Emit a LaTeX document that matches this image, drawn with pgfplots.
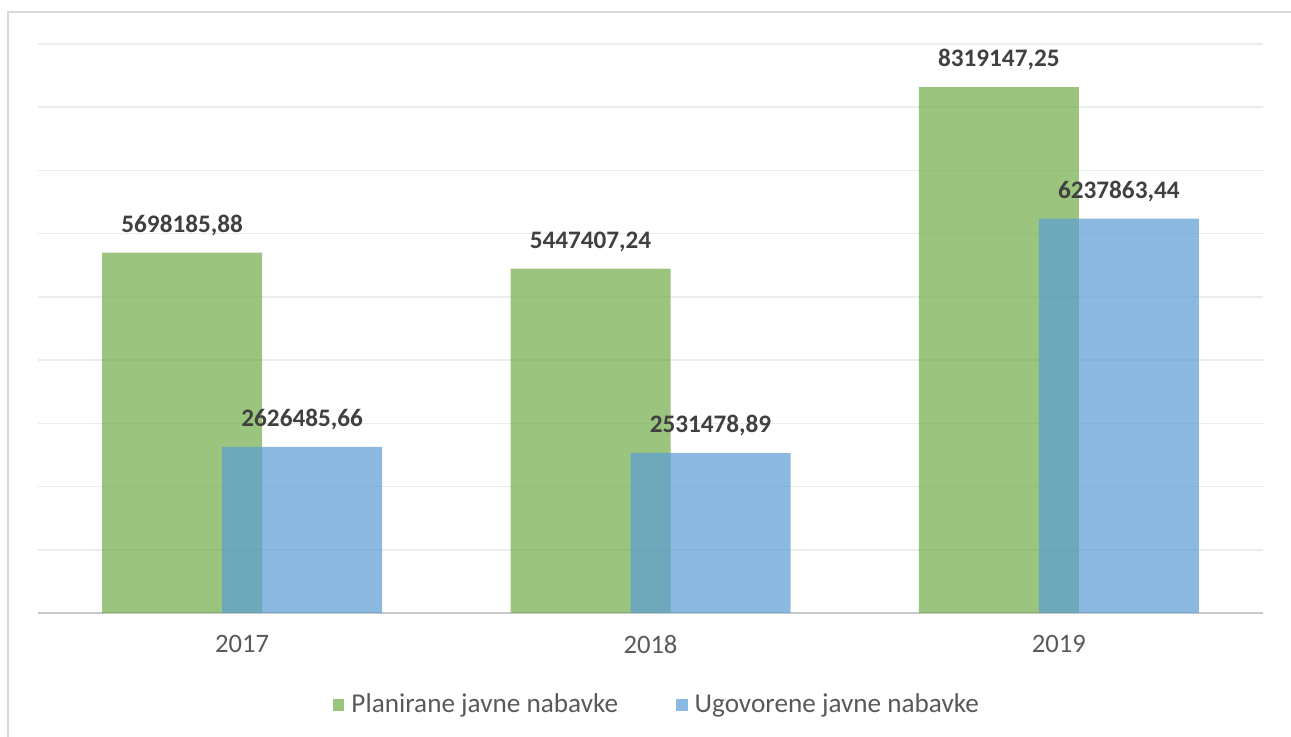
\documentclass[border=0pt]{standalone}
\usepackage{pgfplots}
\pgfplotsset{compat=1.18}
\usepackage{fontspec}
\setmainfont{Carlito}
\definecolor{gbar}{HTML}{70AD47}
\definecolor{bbar}{HTML}{5B9BD5}
\definecolor{lbl}{HTML}{404040}
\definecolor{tickc}{HTML}{595959}
\definecolor{gridc}{HTML}{ECECEC}
\definecolor{basec}{HTML}{C8C8C8}
\definecolor{framec}{HTML}{D9D9D9}
\pgfplotstableread{
x y label
0 5698185.88 5698185,88
1 5447407.24 5447407,24
2 8319147.25 8319147,25
}\planirane
\pgfplotstableread{
x y label
0 2626485.66 2626485,66
1 2531478.89 2531478,89
2 6237863.44 6237863,44
}\ugovorene
\begin{document}
\begin{tikzpicture}[x=1pt,y=1pt]
\useasboundingbox (-19,-62) rectangle (626.5,306.5);
\draw[color=framec, line width=1.2pt] (-15,-80) -- (-15,300.5) -- (660,300.5);
\begin{axis}[
  at={(0pt,0pt)}, anchor=south west,
  scale only axis, width=612.5pt, height=284.5pt,
  xmin=-0.5, xmax=2.5, ymin=0, ymax=9000000,
  axis line style={draw=none},
  xtick={0,1,2}, xticklabels={2017,2018,2019},
  ytick={1000000,2000000,3000000,4000000,5000000,6000000,7000000,8000000,9000000},
  yticklabels={}, scaled y ticks=false,
  ymajorgrids, grid style={color=gridc, line width=0.8pt},
  extra y ticks={0}, extra y tick labels={},
  extra y tick style={grid style={color=basec, line width=1pt}},
  major tick length=0pt,
  xticklabel style={font=\fontsize{13.3}{15}\selectfont, text=tickc, yshift=-7.5pt},
  ybar, bar width=80pt,
  nodes near coords={\pgfplotspointmeta},
  point meta=explicit symbolic,
  nodes near coords style={font=\bfseries\fontsize{12.6}{15}\selectfont, text=lbl, anchor=south, yshift=5pt},
  legend columns=2,
  legend style={at={(axis description cs:0.506,-0.1617)}, anchor=center, draw=none, fill=none,
    font=\fontsize{13.6}{15}\selectfont, text=tickc,
    /tikz/every odd column/.append style={column sep=1.5pt},
    /tikz/every even column/.append style={column sep=27pt}},
  legend image code/.code={\fill[#1, draw=none] (0pt,-2.9pt) rectangle (5.8pt,2.9pt);},
  clip=false,
]
\addplot[fill=gbar, fill opacity=0.7, draw=none, bar shift=-30pt, text opacity=1] table[x=x, y=y, meta=label] {\planirane};
\addplot[fill=bbar, fill opacity=0.7, draw=none, bar shift=30pt, text opacity=1] table[x=x, y=y, meta=label] {\ugovorene};
\legend{Planirane javne nabavke, Ugovorene javne nabavke}
\end{axis}
\end{tikzpicture}
\end{document}
